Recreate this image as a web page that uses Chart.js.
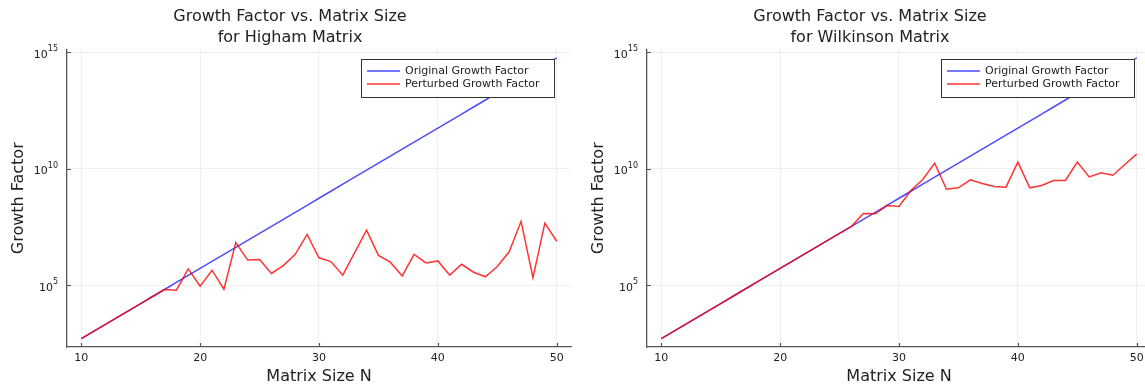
<!DOCTYPE html>
<html>
<head>
<meta charset="utf-8">
<script src="https://cdn.jsdelivr.net/npm/chart.js@4/dist/chart.umd.min.js"></script>
<style>
  html, body { margin: 0; padding: 0; background: #fff; overflow: hidden; width: 1145px; height: 387px; }
  #wrap { position: relative; width: 1160px; height: 387px; }
  .panel { position: absolute; top: 0; width: 580px; height: 387px; }
</style>
</head>
<body>
<div id="wrap">
  <div class="panel" style="left:0"><canvas id="higham" width="580" height="387"></canvas></div>
  <div class="panel" style="left:580px"><canvas id="wilkinson" width="580" height="387"></canvas></div>
</div>
<script>
// Matrix sizes N
const matrixSizes = [10, 11, 12, 13, 14, 15, 16, 17, 18, 19, 20, 21, 22, 23, 24, 25, 26, 27, 28, 29, 30,
                     31, 32, 33, 34, 35, 36, 37, 38, 39, 40, 41, 42, 43, 44, 45, 46, 47, 48, 49, 50];

// Unperturbed growth factor (same for both matrices)
const originalGrowth = [512, 1024, 2048, 4096, 8192, 16384, 32768, 65536, 131072, 262144, 524288,
  1048576, 2097152, 4194304, 8388608, 16777216, 33554432, 67108864, 134217728, 268435456, 536870912,
  1073741824, 2147483648, 4294967296, 8589934592, 17179869184, 34359738368, 68719476736,
  137438953472, 274877906944, 549755813888, 1099511627776, 2199023255552, 4398046511104,
  8796093022208, 17592186044416, 35184372088832, 70368744177664, 140737488355328,
  281474976710656, 562949953421312];

// Growth factor after perturbation, Higham matrix
const highamPerturbed = [512, 1024, 2048, 4096, 8192, 16384, 32768, 65536, 6.1e4, 5.0e5, 9.0e4,
  4.4e5, 6.7e4, 6.7e6, 1.2e6, 1.26e6, 3.2e5, 6.9e5, 2.1e6, 1.5e7, 1.5e6,
  1.03e6, 2.7e5, 2.5e6, 2.3e7, 1.9e6, 9.7e5, 2.5e5, 2.1e6, 9.0e5, 1.1e6,
  2.7e5, 7.9e5, 3.6e5, 2.3e5, 6.3e5, 2.7e6, 5.5e7, 2.1e5, 4.6e7, 7.7e6];

// Growth factor after perturbation, Wilkinson matrix
const wilkinsonPerturbed = [512, 1024, 2048, 4096, 8192, 16384, 32768, 65536, 131072, 262144, 524288,
  1048576, 2097152, 4194304, 8388608, 16777216, 33554432, 1.2e8, 1.15e8, 2.6e8, 2.4e8,
  1.15e9, 3.4e9, 1.7e10, 1.3e9, 1.5e9, 3.3e9, 2.3e9, 1.7e9, 1.6e9, 1.9e10,
  1.5e9, 1.9e9, 3.1e9, 3.1e9, 1.9e10, 4.4e9, 6.7e9, 5.2e9, 1.5e10, 4.2e10];

const xTickValues = [10, 20, 30, 40, 50];
const yTickValues = [1e5, 1e10, 1e15];
const yTickBase = '10';
const yTickExponents = ['5', '10', '15'];
const seriesLabels = ['Original Growth Factor', 'Perturbed Growth Factor'];
const highamTitle = ['Growth Factor vs. Matrix Size', 'for Higham Matrix'];
const wilkinsonTitle = ['Growth Factor vs. Matrix Size', 'for Wilkinson Matrix'];
const xAxisTitle = 'Matrix Size N';
const yAxisTitle = 'Growth Factor';

Chart.defaults.font.family = '"DejaVu Sans", sans-serif';
Chart.defaults.color = '#222';

const FONT = '"DejaVu Sans", sans-serif';
const AXIS_COLOR = '#555';
const GRID_COLOR = 'rgba(0,0,0,0.1)';

// Framed legend in the upper right corner of the plot area
const boxLegend = {
  id: 'boxLegend',
  afterDatasetsDraw(chart) {
    const { ctx, chartArea } = chart;
    const w = 193, h = 38;
    const x = Math.round(chartArea.right - 17 - w);
    const y = Math.round(chartArea.top + 9.5);
    ctx.save();
    ctx.fillStyle = '#fff';
    ctx.fillRect(x, y, w, h);
    ctx.strokeStyle = '#333';
    ctx.lineWidth = 1;
    ctx.strokeRect(x + 0.5, y + 0.5, w, h);
    ctx.font = '11px ' + FONT;
    ctx.textBaseline = 'middle';
    chart.data.datasets.forEach((ds, i) => {
      const ly = y + 12 + i * 13;
      ctx.strokeStyle = ds.borderColor;
      ctx.lineWidth = 1.6;
      ctx.beginPath();
      ctx.moveTo(x + 6, ly);
      ctx.lineTo(x + 39, ly);
      ctx.stroke();
      ctx.fillStyle = '#222';
      ctx.fillText(ds.label, x + 44, ly);
    });
    ctx.restore();
  }
};

// Inward tick marks on the axes and power-of-ten labels with raised exponents
const axisDecor = {
  id: 'axisDecor',
  afterDraw(chart) {
    const { ctx, chartArea, scales } = chart;
    ctx.save();
    ctx.strokeStyle = AXIS_COLOR;
    ctx.lineWidth = 1.2;
    ctx.beginPath();
    xTickValues.forEach(v => {
      const px = Math.round(scales.x.getPixelForValue(v)) + 0.5;
      ctx.moveTo(px, chartArea.bottom);
      ctx.lineTo(px, chartArea.bottom - 4);
    });
    yTickValues.forEach(v => {
      const py = Math.round(scales.y.getPixelForValue(v)) + 0.5;
      ctx.moveTo(chartArea.left, py);
      ctx.lineTo(chartArea.left + 4, py);
    });
    ctx.stroke();

    ctx.fillStyle = '#222';
    ctx.textBaseline = 'middle';
    ctx.textAlign = 'left';
    const right = chartArea.left - 9;
    yTickValues.forEach((v, i) => {
      const py = scales.y.getPixelForValue(v);
      ctx.font = '11px ' + FONT;
      const baseW = ctx.measureText(yTickBase).width;
      ctx.font = '8px ' + FONT;
      const expW = ctx.measureText(yTickExponents[i]).width;
      const x0 = right - baseW - expW;
      ctx.font = '11px ' + FONT;
      ctx.fillText(yTickBase, x0, py + 3);
      ctx.font = '8px ' + FONT;
      ctx.fillText(yTickExponents[i], x0 + baseW, py - 3);
    });
    ctx.restore();
  }
};

function makeChart(id, title, perturbed) {
  const toPoints = arr => matrixSizes.map((n, i) => ({ x: n, y: arr[i] }));
  return new Chart(document.getElementById(id), {
    type: 'line',
    data: {
      datasets: [
        // drawn underneath
        { label: seriesLabels[0], data: toPoints(originalGrowth), order: 2,
          borderColor: 'rgba(0,0,255,0.7)', borderWidth: 1.5, pointRadius: 0, tension: 0 },
        // drawn on top
        { label: seriesLabels[1], data: toPoints(perturbed), order: 1,
          borderColor: 'rgba(255,0,0,0.8)', borderWidth: 1.5, pointRadius: 0, tension: 0 }
      ]
    },
    options: {
      responsive: false,
      animation: false,
      devicePixelRatio: 1,
      layout: { padding: { left: 9, right: 9, top: 0, bottom: 0 } },
      plugins: {
        legend: { display: false },
        tooltip: { enabled: false },
        title: {
          display: true,
          text: title,
          color: '#222',
          font: { size: 16, weight: 'normal', lineHeight: 1.3 },
          padding: { top: 6.6, bottom: 1.3 }
        }
      },
      scales: {
        x: {
          type: 'linear',
          min: 8.8,
          max: 51.2,
          afterBuildTicks: s => { s.ticks = xTickValues.map(v => ({ value: v })); },
          afterFit: s => { s.height = 40; },
          ticks: { font: { size: 11 }, color: '#222', padding: 5, maxRotation: 0 },
          grid: { color: GRID_COLOR, lineWidth: 0.6, drawTicks: false },
          border: { display: true, color: AXIS_COLOR, width: 1.3 },
          title: { display: true, text: xAxisTitle, font: { size: 16 }, color: '#222',
                   padding: { top: 0, bottom: 1 } }
        },
        y: {
          type: 'logarithmic',
          min: Math.pow(10, 2.35),
          max: Math.pow(10, 15.11),
          afterBuildTicks: s => { s.ticks = yTickValues.map(v => ({ value: v })); },
          afterFit: s => { s.width = 58; },
          ticks: { display: false },
          grid: { color: GRID_COLOR, lineWidth: 0.6, drawTicks: false },
          border: { display: true, color: AXIS_COLOR, width: 1.3 },
          title: { display: true, text: yAxisTitle, font: { size: 16 }, color: '#222',
                   padding: { top: 0, bottom: 0 } }
        }
      }
    },
    plugins: [boxLegend, axisDecor]
  });
}

makeChart('higham', highamTitle, highamPerturbed);
makeChart('wilkinson', wilkinsonTitle, wilkinsonPerturbed);
</script>
</body>
</html>
